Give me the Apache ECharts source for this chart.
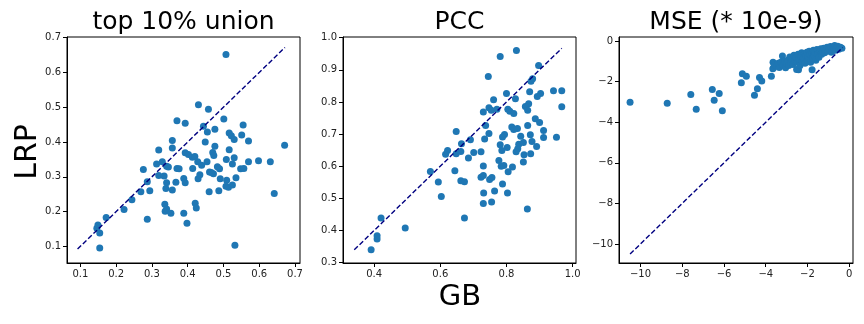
<!DOCTYPE html>
<html>
<head>
<meta charset="utf-8">
<script src="https://cdn.jsdelivr.net/npm/echarts@6/dist/echarts.min.js"></script>
<style>
  html, body { margin: 0; padding: 0; background: #fff; }
  #chart { width: 864px; height: 324px; }
</style>
</head>
<body>
<div id="chart"></div>
<script>
// panel 1: top 10% union
const unionGB = [0.507, 0.430, 0.458, 0.501, 0.370, 0.393, 0.444, 0.476, 0.455, 0.555, 0.516, 0.522, 0.530, 0.551, 0.570, 0.357, 0.449, 0.319, 0.357, 0.476, 0.516, 0.671, 0.393, 0.402, 0.413, 0.420, 0.470, 0.473, 0.329, 0.313, 0.341, 0.346, 0.370, 0.376, 0.276, 0.428, 0.439, 0.414, 0.454, 0.483, 0.489, 0.508, 0.530, 0.525, 0.548, 0.557, 0.570, 0.598, 0.631, 0.319, 0.334, 0.287, 0.341, 0.367, 0.389, 0.393, 0.429, 0.434, 0.461, 0.472, 0.466, 0.491, 0.509, 0.535, 0.507, 0.514, 0.525, 0.269, 0.294, 0.339, 0.357, 0.460, 0.487, 0.642, 0.244, 0.222, 0.336, 0.341, 0.337, 0.353, 0.421, 0.424, 0.389, 0.398, 0.287, 0.172, 0.149, 0.146, 0.154, 0.154, 0.532]
const unionLRP = [0.652, 0.507, 0.494, 0.466, 0.461, 0.454, 0.445, 0.437, 0.429, 0.449, 0.426, 0.418, 0.407, 0.420, 0.403, 0.404, 0.400, 0.377, 0.383, 0.388, 0.378, 0.391, 0.369, 0.364, 0.356, 0.358, 0.370, 0.361, 0.343, 0.337, 0.330, 0.328, 0.324, 0.323, 0.321, 0.343, 0.333, 0.324, 0.343, 0.329, 0.323, 0.350, 0.355, 0.337, 0.323, 0.324, 0.343, 0.346, 0.343, 0.304, 0.302, 0.286, 0.283, 0.284, 0.295, 0.283, 0.294, 0.306, 0.314, 0.309, 0.312, 0.294, 0.290, 0.297, 0.273, 0.270, 0.276, 0.257, 0.260, 0.266, 0.262, 0.257, 0.260, 0.252, 0.234, 0.206, 0.221, 0.207, 0.201, 0.195, 0.224, 0.210, 0.195, 0.166, 0.178, 0.183, 0.161, 0.152, 0.138, 0.095, 0.103]

// panel 2: PCC
const pccGB = [0.830, 0.781, 0.897, 0.745, 0.879, 0.874, 0.870, 0.800, 0.942, 0.967, 0.903, 0.893, 0.827, 0.761, 0.867, 0.857, 0.864, 0.967, 0.747, 0.754, 0.771, 0.730, 0.804, 0.810, 0.822, 0.887, 0.900, 0.737, 0.864, 0.816, 0.822, 0.833, 0.912, 0.648, 0.747, 0.794, 0.788, 0.734, 0.872, 0.843, 0.912, 0.951, 0.691, 0.664, 0.781, 0.837, 0.851, 0.877, 0.891, 0.802, 0.786, 0.834, 0.622, 0.616, 0.648, 0.662, 0.701, 0.723, 0.829, 0.853, 0.873, 0.685, 0.777, 0.851, 0.784, 0.792, 0.818, 0.730, 0.805, 0.570, 0.644, 0.723, 0.730, 0.749, 0.756, 0.594, 0.662, 0.673, 0.788, 0.764, 0.731, 0.803, 0.603, 0.730, 0.755, 0.863, 0.421, 0.673, 0.494, 0.409, 0.409, 0.391]
const pccLRP = [0.960, 0.941, 0.913, 0.879, 0.872, 0.864, 0.832, 0.826, 0.835, 0.835, 0.826, 0.817, 0.810, 0.807, 0.794, 0.786, 0.774, 0.785, 0.782, 0.774, 0.777, 0.769, 0.777, 0.771, 0.764, 0.748, 0.736, 0.727, 0.727, 0.722, 0.714, 0.717, 0.711, 0.708, 0.702, 0.699, 0.691, 0.685, 0.698, 0.693, 0.689, 0.690, 0.682, 0.670, 0.667, 0.668, 0.674, 0.677, 0.661, 0.658, 0.649, 0.654, 0.649, 0.637, 0.639, 0.646, 0.643, 0.645, 0.645, 0.636, 0.639, 0.626, 0.618, 0.613, 0.600, 0.602, 0.598, 0.601, 0.583, 0.584, 0.586, 0.566, 0.571, 0.559, 0.565, 0.551, 0.555, 0.552, 0.545, 0.523, 0.517, 0.517, 0.506, 0.484, 0.489, 0.467, 0.439, 0.439, 0.408, 0.384, 0.374, 0.340]

// panel 3: MSE (* 10e-9)
const mseGB = [-10.50, -8.72, -7.59, -7.33, -6.56, -6.47, -6.23, -6.08, -5.12, -4.93, -5.17, -4.30, -4.19, -4.40, -4.54, -3.73, -3.20, -1.78, -2.43, -3.66,
  -3.65, -3.62, -3.55, -3.48, -3.40, -3.35, -3.28, -3.18, -3.10, -3.05, -3.00, -2.95, -2.90, -2.85, -2.80, -2.75, -2.70, -2.65, -2.62, -2.55, -2.52, -2.48, -2.45, -2.40, -2.36, -2.32, -2.28, -2.25, -2.20, -2.15, -2.12, -2.08, -2.03, -2.00, -1.96, -1.92, -1.88, -1.85, -1.80, -1.76, -1.72, -1.68, -1.64, -1.60, -1.55, -1.50, -1.45, -1.40, -1.36, -1.32, -1.28, -1.22, -1.18, -1.12, -1.06, -1.02, -0.96, -0.90, -0.85, -0.80, -0.75, -0.70, -0.65, -0.60, -0.55, -0.50, -0.42, -0.35]
const mseLRP = [-3.02, -3.07, -2.64, -3.36, -2.39, -2.92, -2.59, -3.43, -1.61, -1.74, -2.05, -1.80, -1.97, -2.35, -2.67, -1.74, -0.74, -1.41, -1.41, -1.36,
  -1.05, -1.30, -1.15, -1.22, -1.10, -1.30, -1.05, -1.20, -1.00, -1.32, -1.10, -0.95, -1.20, -0.78, -1.05, -0.90, -1.15, -0.70, -0.98, -0.82, -1.40, -1.05, -0.65, -0.90, -1.20, -0.75, -0.58, -1.00, -0.85, -0.62, -1.10, -0.72, -0.55, -0.95, -0.80, -0.50, -0.68, -1.05, -0.58, -0.85, -0.45, -0.70, -0.55, -0.95, -0.42, -0.62, -0.80, -0.48, -0.38, -0.65, -0.52, -0.35, -0.58, -0.44, -0.30, -0.50, -0.38, -0.27, -0.55, -0.40, -0.30, -0.22, -0.45, -0.33, -0.25, -0.40, -0.30, -0.35]

// diagonal y = x, from min to max of each panel
const unionDiag = [0.092, 0.672]
const pccDiag = [0.340, 0.967]
const mseDiag = [-10.50, -0.32]

// tick labels
const unionTicks = [0.1, 0.2, 0.3, 0.4, 0.5, 0.6, 0.7]
const pccTicksX = [0.4, 0.6, 0.8, 1.0]
const pccTicksY = [0.3, 0.4, 0.5, 0.6, 0.7, 0.8, 0.9, 1.0]
const mseTicks = [-10, -8, -6, -4, -2, 0]

const titles = ['top 10% union', 'PCC', 'MSE (* 10e-9)']

const font = 'DejaVu Sans'
const grids = [
  { left: 67, top: 37, width: 233, height: 226 },
  { left: 343, top: 37, width: 233, height: 226 },
  { left: 619, top: 37, width: 234, height: 226 }
]

function zip (xs, ys) {
  return xs.map((x, i) => [x, ys[i]])
}

const fmt1 = v => v.toFixed(1)
const fmtInt = v => String(v).replace('-', '\u2212')

function makeAxis (i, min, max, ticks, fmt) {
  return {
    type: 'value',
    gridIndex: i,
    min: min,
    max: max,
    splitLine: { show: false },
    axisLine: { show: true, onZero: false, lineStyle: { color: '#000', width: 1 } },
    axisTick: { show: true, length: 4, customValues: ticks, lineStyle: { color: '#000' } },
    axisLabel: {
      customValues: ticks,
      formatter: fmt,
      margin: 6,
      color: '#222',
      fontFamily: font,
      fontSize: 10
    }
  }
}

const xAxis = [
  makeAxis(0, 0.0625, 0.714, unionTicks, fmt1),
  makeAxis(1, 0.306, 1.010, pccTicksX, fmt1),
  makeAxis(2, -11.03, 0.18, mseTicks, fmtInt)
]
const yAxis = [
  makeAxis(0, 0.052, 0.702, unionTicks, fmt1),
  makeAxis(1, 0.299, 1.002, pccTicksY, fmt1),
  makeAxis(2, -10.94, 0.2, mseTicks, fmtInt)
]

const panels = [
  [unionGB, unionLRP, unionDiag],
  [pccGB, pccLRP, pccDiag],
  [mseGB, mseLRP, mseDiag]
]

const series = []
panels.forEach((p, i) => {
  series.push({
    type: 'scatter',
    xAxisIndex: i,
    yAxisIndex: i,
    symbolSize: 7,
    itemStyle: { color: '#1f77b4', opacity: 1 },
    data: zip(p[0], p[1]),
    z: 2
  })
  series.push({
    type: 'line',
    xAxisIndex: i,
    yAxisIndex: i,
    symbol: 'none',
    lineStyle: { color: '#000080', width: 1.4, type: [5, 2.4] },
    data: [[p[2][0], p[2][0]], [p[2][1], p[2][1]]],
    z: 3
  })
})

const graphic = titles.map((t, i) => ({
  type: 'text',
  x: grids[i].left + grids[i].width / 2,
  y: 22,
  style: { text: t, fontFamily: font, fontSize: 25, fill: '#000', textAlign: 'center', textVerticalAlign: 'middle' }
}))
graphic.push({
  type: 'text',
  x: 28,
  y: 152,
  rotation: Math.PI / 2,
  style: { text: 'LRP', fontFamily: font, fontSize: 30, fill: '#000', textAlign: 'center', textVerticalAlign: 'middle' }
})
graphic.push({
  type: 'text',
  x: 460,
  y: 297,
  style: { text: 'GB', fontFamily: font, fontSize: 29, fill: '#000', textAlign: 'center', textVerticalAlign: 'middle' }
})

const chart = echarts.init(document.getElementById('chart'), null, { renderer: 'canvas' })
chart.setOption({
  animation: false,
  backgroundColor: '#fff',
  grid: grids.map(g => Object.assign({ show: true, borderColor: '#000', borderWidth: 1, backgroundColor: 'transparent' }, g)),
  xAxis: xAxis,
  yAxis: yAxis,
  series: series,
  graphic: graphic
})
</script>
</body>
</html>
